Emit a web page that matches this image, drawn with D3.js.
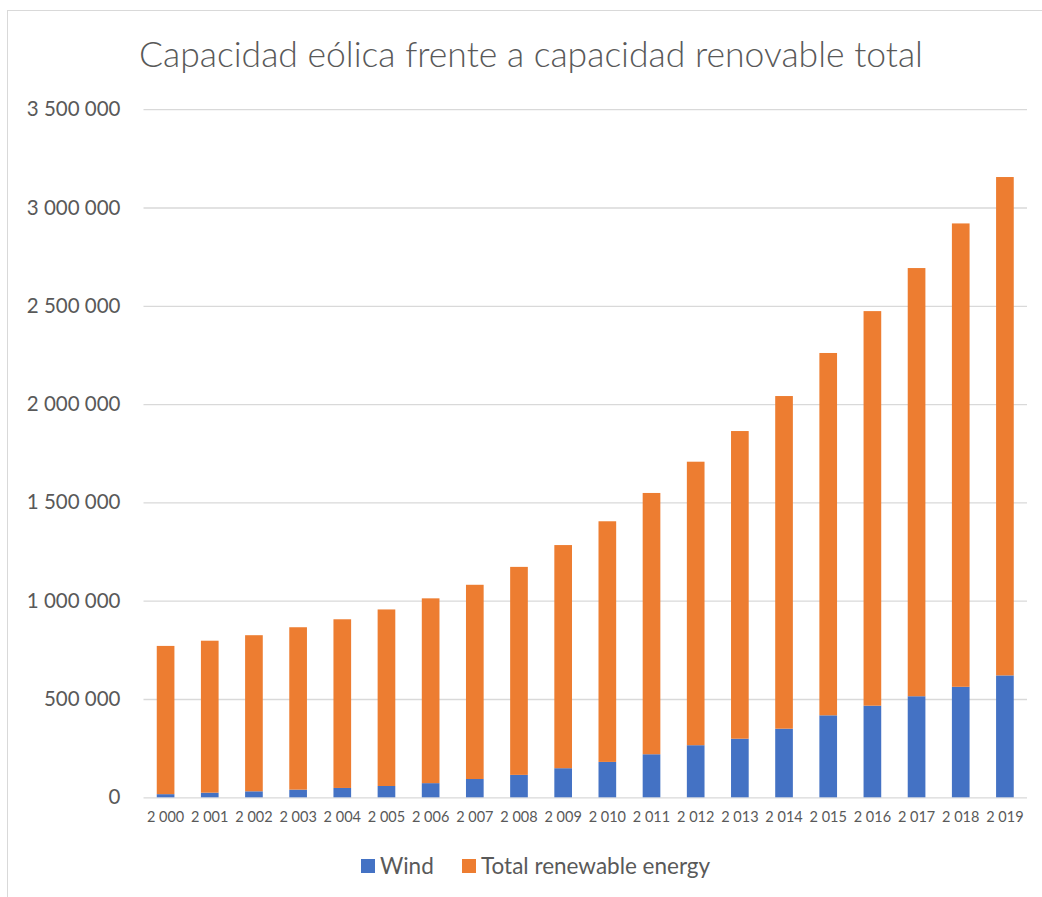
<!DOCTYPE html>
<html>
<head>
<meta charset="utf-8">
<script src="https://cdn.jsdelivr.net/npm/d3@7"></script>
<style>
  html, body { margin: 0; padding: 0; background: #ffffff; }
  svg { display: block; font-family: Lato, "Open Sans", sans-serif; }
</style>
</head>
<body>
<svg id="chart" width="1042" height="897"></svg>
<script>
// Installed capacity (MW), stacked: wind at the base, total renewable above it
const years = [2000, 2001, 2002, 2003, 2004, 2005, 2006, 2007, 2008, 2009,
               2010, 2011, 2012, 2013, 2014, 2015, 2016, 2017, 2018, 2019];
const wind = [16000, 23500, 30500, 39000, 47500, 57500, 72000, 93000, 114000, 148000,
              180000, 219000, 265000, 298000, 349000, 417000, 466000, 514000, 562000, 620000];
const totalRenewable = [754000, 773000, 794000, 826000, 858000, 898000, 940000, 988000, 1058000, 1135000,
                        1224000, 1329000, 1442000, 1565000, 1692000, 1843000, 2007000, 2178000, 2357000, 2535000];
const yTicks = [0, 500000, 1000000, 1500000, 2000000, 2500000, 3000000, 3500000];
const seriesNames = ["Wind", "Total renewable energy"];
const seriesColors = ["#4472C4", "#ED7D31"];
const title = "Capacidad eólica frente a capacidad renovable total";

// Space as thousands separator, as in the workbook's number format
const locale = d3.formatLocale({ decimal: ",", thousands: " ", grouping: [3], currency: ["", ""] });
const fmt = locale.format(",d");

const svg = d3.select("#chart");
const textColor = "#595959";
const gridColor = "#d9d9d9";

// Chart frame
svg.append("rect")
  .attr("x", 7.5).attr("y", 10.5)
  .attr("width", 1100).attr("height", 1000)
  .attr("fill", "#ffffff")
  .attr("stroke", gridColor).attr("stroke-width", 1);

const plot = { left: 143.5, right: 1027, top: 109.2, bottom: 797.3 };

const rows = years.map((y, i) => ({ year: y, wind: wind[i], total: totalRenewable[i] }));
const keys = ["wind", "total"];
const stacked = d3.stack().keys(keys)(rows);

const x = d3.scaleBand()
  .domain(years)
  .range([plot.left, plot.right])
  .paddingInner(0.6)
  .paddingOuter(0.3);

const y = d3.scaleLinear()
  .domain([0, 3500000])
  .range([plot.bottom, plot.top]);

// Title
svg.append("text")
  .attr("x", 531).attr("y", 67)
  .attr("text-anchor", "middle")
  .attr("fill", textColor)
  .style("font-size", "35.5px")
  .style("font-weight", 300)
  .text(title);

// Horizontal gridlines with value labels
const yAxis = d3.axisLeft(y)
  .tickValues(yTicks)
  .tickFormat(fmt)
  .tickSize(-(plot.right - plot.left))
  .tickPadding(23);

const gy = svg.append("g")
  .attr("transform", `translate(${plot.left},0)`)
  .call(yAxis);
gy.select(".domain").remove();
gy.selectAll(".tick line").attr("stroke", gridColor).attr("stroke-width", 1.3);
gy.selectAll(".tick text")
  .attr("fill", textColor)
  .style("font-size", "20.5px")
  .style("font-family", "Lato, sans-serif");

// Stacked bars
svg.append("g")
  .selectAll("g")
  .data(stacked)
  .join("g")
  .attr("fill", (d, i) => seriesColors[i])
  .selectAll("rect")
  .data(d => d)
  .join("rect")
  .attr("x", d => x(d.data.year))
  .attr("width", x.bandwidth())
  .attr("y", d => y(d[1]))
  .attr("height", d => y(d[0]) - y(d[1]));

// Category axis labels
const xAxis = d3.axisBottom(x)
  .tickFormat(fmt)
  .tickSize(0)
  .tickPadding(14);
const gx = svg.append("g")
  .attr("transform", `translate(0,${plot.bottom})`)
  .call(xAxis);
gx.select(".domain").remove();
gx.selectAll(".tick text")
  .attr("fill", textColor)
  .style("font-size", "14.5px")
  .style("font-family", "Lato, sans-serif");

// Legend
const legendItems = [
  { name: seriesNames[0], color: seriesColors[0], x: 361 },
  { name: seriesNames[1], color: seriesColors[1], x: 462 }
];
const lg = svg.append("g");
legendItems.forEach(item => {
  lg.append("rect")
    .attr("x", item.x).attr("y", 859)
    .attr("width", 14).attr("height", 14)
    .attr("fill", item.color);
  lg.append("text")
    .attr("x", item.x + 19).attr("y", 874)
    .attr("fill", textColor)
    .style("font-size", "22.5px")
    .text(item.name);
});
</script>
</body>
</html>
